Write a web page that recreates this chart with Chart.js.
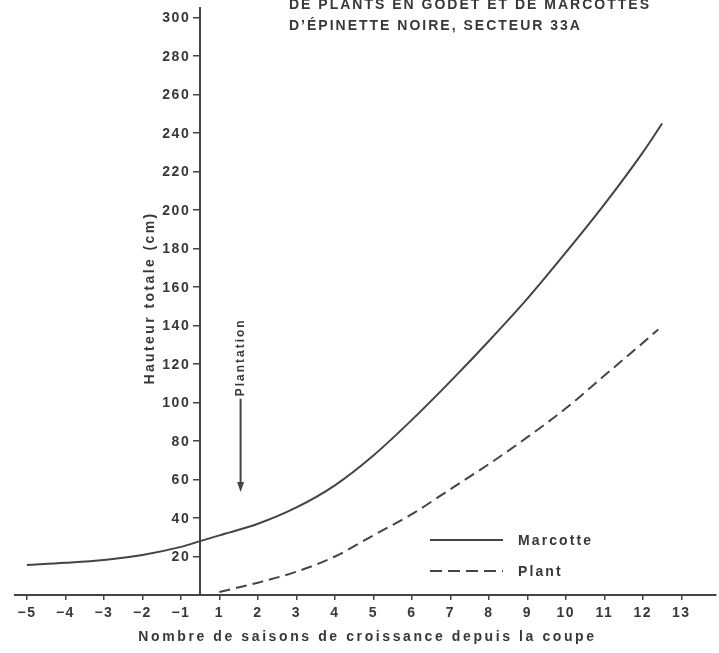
<!DOCTYPE html>
<html>
<head>
<meta charset="utf-8">
<script src="https://cdn.jsdelivr.net/npm/chart.js@4.4.0/dist/chart.umd.min.js"></script>
<style>
  html, body { margin: 0; padding: 0; background: #fff; }
  #wrap { width: 719px; height: 653px; }
</style>
</head>
<body>
<div id="wrap"><canvas id="growth" width="719" height="653"></canvas></div>
<script>
// seasons since the cut; there is no season 0, so -5..-1 sit at -4..0 on the axis
const seasonLabels = ['\u22125', '\u22124', '\u22123', '\u22122', '\u22121',
  '1', '2', '3', '4', '5', '6', '7', '8', '9', '10', '11', '12', '13'];
const seasonPos = [-4, -3, -2, -1, 0, 1, 2, 3, 4, 5, 6, 7, 8, 9, 10, 11, 12, 13];
const heightTicks = [20, 40, 60, 80, 100, 120, 140, 160, 180, 200, 220, 240, 260, 280, 300];

// Marcotte (layers) - total height in cm
const marcotteX = [-4, -3, -2, -1, 0, 0.5, 1, 2, 3, 4, 5, 6, 7, 8, 9, 10, 11, 12, 12.5];
const marcotteY = [15.6, 16.7, 18.2, 20.8, 25, 28, 31, 37, 45.5, 57, 72.5, 91, 111, 132, 154, 178, 203, 230, 245];

// Plant (container seedlings) - total height in cm
const plantX = [1, 2, 3, 4, 5, 6, 7, 8, 9, 10, 11, 12, 12.4];
const plantY = [1.6, 6.4, 12.1, 20, 31, 42, 55, 68, 82, 97, 114, 131, 138];

const plantationAt = 1.55;   // arrow position on the season axis
const ink = '#444';
const txt = '#383838';
const face = '"Liberation Sans", Arial, sans-serif';

const toPoints = (xs, ys) => xs.map((x, i) => ({ x: x, y: ys[i] }));

// wide lettering, as on the printed figure
const spacing = {
  id: 'spacing',
  beforeUpdate(chart) { chart.ctx.letterSpacing = '1.5px'; },
  beforeDraw(chart) {
    const ctx = chart.ctx;
    ctx.letterSpacing = '1.5px';
    ctx.save();
    ctx.fillStyle = '#fff';
    ctx.fillRect(0, 0, chart.width, chart.height);
    ctx.restore();
  }
};

const extras = {
  id: 'extras',
  afterDraw(chart) {
    const ctx = chart.ctx;
    const xs = chart.scales.x, ys = chart.scales.y;
    const area = chart.chartArea;
    ctx.save();
    ctx.fillStyle = txt;
    ctx.strokeStyle = ink;

    // height tick labels, left of the axis line
    const axisX = xs.getPixelForValue(0.5);
    ctx.font = 'bold 14px ' + face;
    ctx.letterSpacing = '1.5px';
    ctx.textAlign = 'right';
    ctx.textBaseline = 'middle';
    ys.ticks.forEach(t => {
      ctx.fillText(t.label, axisX - 10, ys.getPixelForValue(t.value) + 1);
    });

    // x axis title
    ctx.letterSpacing = '2.6px';
    ctx.textAlign = 'center';
    ctx.fillText('Nombre de saisons de croissance depuis la coupe', (area.left + area.right) / 2 + 2, 637);

    // heading (top lines)
    ctx.letterSpacing = '2px';
    ctx.textAlign = 'left';
    ctx.textBaseline = 'alphabetic';
    ctx.fillText('DE PLANTS EN GODET ET DE MARCOTTES', 289, 9);
    ctx.fillText('D\u2019\u00c9PINETTE NOIRE, SECTEUR 33A', 289, 30);

    // y axis title
    ctx.save();
    ctx.translate(150, 298);
    ctx.rotate(-Math.PI / 2);
    ctx.textAlign = 'center';
    ctx.textBaseline = 'middle';
    ctx.letterSpacing = '2.4px';
    ctx.fillText('Hauteur totale (cm)', 0, 0);
    ctx.restore();

    // planting arrow
    const ax = xs.getPixelForValue(plantationAt);
    ctx.save();
    ctx.translate(ax, ys.getPixelForValue(123.5));
    ctx.rotate(-Math.PI / 2);
    ctx.font = 'bold 12px ' + face;
    ctx.letterSpacing = '2px';
    ctx.textAlign = 'center';
    ctx.textBaseline = 'middle';
    ctx.fillText('Plantation', 0, 0);
    ctx.restore();
    const yTail = ys.getPixelForValue(102), yTip = ys.getPixelForValue(53.5);
    ctx.lineWidth = 2;
    ctx.beginPath();
    ctx.moveTo(ax, yTail);
    ctx.lineTo(ax, yTip - 8);
    ctx.stroke();
    ctx.fillStyle = ink;
    ctx.beginPath();
    ctx.moveTo(ax - 3.5, yTip - 10);
    ctx.lineTo(ax + 3.5, yTip - 10);
    ctx.lineTo(ax, yTip);
    ctx.closePath();
    ctx.fill();

    // legend
    ctx.lineWidth = 2;
    ctx.beginPath();
    ctx.moveTo(430, 540);
    ctx.lineTo(503, 540);
    ctx.stroke();
    ctx.setLineDash([12, 6]);
    ctx.beginPath();
    ctx.moveTo(430, 571);
    ctx.lineTo(503, 571);
    ctx.stroke();
    ctx.setLineDash([]);
    ctx.fillStyle = txt;
    ctx.font = 'bold 14px ' + face;
    ctx.letterSpacing = '2.1px';
    ctx.textAlign = 'left';
    ctx.textBaseline = 'middle';
    ctx.fillText('Marcotte', 518, 541);
    ctx.fillText('Plant', 518, 572);
    ctx.restore();
  }
};

const tickFont = { family: face, size: 14, weight: 'bold' };

new Chart(document.getElementById('growth'), {
  type: 'line',
  data: {
    datasets: [{
      label: 'Marcotte',
      data: toPoints(marcotteX, marcotteY),
      borderColor: ink,
      borderWidth: 2,
      cubicInterpolationMode: 'monotone',
      pointRadius: 0,
      fill: false
    }, {
      label: 'Plant',
      data: toPoints(plantX, plantY),
      borderColor: ink,
      borderWidth: 2,
      borderDash: [11, 6],
      cubicInterpolationMode: 'monotone',
      pointRadius: 0,
      fill: false
    }]
  },
  options: {
    responsive: false,
    animation: false,
    layout: { padding: { left: 15, right: 3, top: 8, bottom: 0 } },
    plugins: { legend: { display: false }, tooltip: { enabled: false } },
    scales: {
      x: {
        type: 'linear',
        position: 'bottom',
        min: -4.31,
        max: 13.9,
        afterBuildTicks: s => { s.ticks = seasonPos.map(v => ({ value: v })); },
        afterFit: s => { s.height = 58; },
        ticks: {
          autoSkip: false,
          maxRotation: 0,
          padding: 5,
          color: txt,
          font: tickFont,
          callback: v => seasonLabels[seasonPos.indexOf(v)]
        },
        grid: { drawOnChartArea: false, drawTicks: true, tickLength: 5, color: ink, lineWidth: 1.5 },
        border: { display: true, color: ink, width: 2 },
        title: { display: false }
      },
      y: {
        type: 'linear',
        position: { x: 0.5 },
        min: 0,
        max: 305,
        afterBuildTicks: s => { s.ticks = heightTicks.map(v => ({ value: v })); },
        ticks: { display: false },
        grid: { drawOnChartArea: false, drawTicks: true, tickLength: 6, color: ink, lineWidth: 1.5 },
        border: { display: true, color: ink, width: 2 }
      }
    }
  },
  plugins: [spacing, extras]
});
</script>
</body>
</html>
